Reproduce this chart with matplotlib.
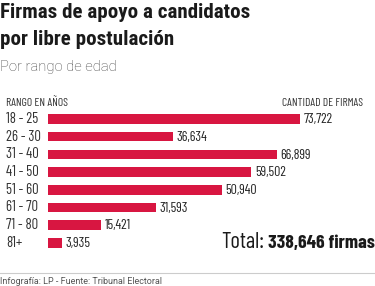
import matplotlib
matplotlib.use("Agg")
import matplotlib.pyplot as plt

# datos
rangos = ["18 - 25", "26 - 30", "31 - 40", "41 - 50", "51 - 60", "61 - 70", "71 - 80", "81+"]
firmas = [73722, 36634, 66899, 59502, 50940, 31593, 15421, 3935]
total = 338646

cond = ["Roboto Condensed", "Barlow Semi Condensed", "DejaVu Sans"]
narrow = ["Barlow Condensed", "Roboto Condensed", "DejaVu Sans"]
plain = ["Roboto", "DejaVu Sans"]

W, H = 375, 286
fig = plt.figure(figsize=(W / 100, H / 100), dpi=100)
fig.patch.set_facecolor("white")
renderer = fig.canvas.get_renderer()

def fx(px):
    return px / W

def fy(py):
    return 1 - py / H

def fit(s, target, **kw):
    # tamaño de letra para que el texto mida target px de ancho
    t = fig.text(0, 0, s, fontsize=10, **kw)
    w = t.get_window_extent(renderer).width
    t.remove()
    return 10 * target / w

red = "#d81641"
dark = "#1a1a1a"

# titulo
kw = dict(fontweight="bold", family=cond, color=dark, va="baseline")
fs = fit("Firmas de apoyo a candidatos", 251, **kw)
fig.text(fx(0), fy(18.5), "Firmas de apoyo a candidatos", fontsize=fs, **kw)
fig.text(fx(0), fy(45), "por libre postulación", fontsize=fs, **kw)
kw = dict(family=plain, fontweight="light", color="#444444", va="baseline")
fig.text(fx(0), fy(71), "Por rango de edad", fontsize=fit("Por rango de edad", 117, **kw), **kw)

# cabeceras
kw = dict(family=narrow, color="#333333", va="baseline")
fig.text(fx(6), fy(106), "RANGO EN AÑOS", fontsize=fit("RANGO EN AÑOS", 62, **kw), **kw)
fig.text(fx(363), fy(106), "CANTIDAD DE FIRMAS", fontsize=fit("CANTIDAD DE FIRMAS", 81, **kw),
         ha="right", **kw)

# barras
step = 17.7
top = 119 - step / 2
ax = fig.add_axes([fx(48.3), fy(top + step * 8), fx(300 - 48.3), step * 8 / H])
y = list(range(len(rangos)))
ax.barh(y, firmas, height=0.54, color=red)
ax.set_xlim(0, firmas[0])
ax.set_ylim(len(rangos) - 0.5, -0.5)
ax.axis("off")

fs_val = fit("36,634", 31, family=narrow)
fs_lab = fit("26 - 30", 35, family=narrow)
for i, v in enumerate(firmas):
    ax.annotate(f"{v:,}", xy=(v, i), xytext=(3.5 * 0.72, -0.5), textcoords="offset points",
                va="center", ha="left", fontsize=fs_val, family=narrow, color="#222222",
                annotation_clip=False)
    ax.annotate(rangos[i], xy=(0, i), xycoords=("figure fraction", "data"),
                xytext=(6 * 0.72, 0), textcoords="offset points", va="center", ha="left",
                fontsize=fs_lab, family=narrow, color="#333333",
                annotation_clip=False)

# total
kw = dict(fontweight="bold", family=narrow, color=dark, va="baseline")
s2 = f"{total:,} firmas"
fig.text(fx(375), fy(248), s2, fontsize=fit(s2, 107, **kw), ha="right", **kw)
kw = dict(fontweight="normal", family=narrow, color=dark, va="baseline")
fig.text(fx(264), fy(248), "Total:", fontsize=fit("Total:", 43, **kw), ha="right", **kw)

# pie
fig.add_artist(plt.Line2D([0, 1], [fy(272.7), fy(272.7)], color="#cccccc", lw=0.8))
kw = dict(family=plain, color="#555555", va="baseline")
s3 = "Infografía: LP - Fuente: Tribunal Electoral"
fig.text(fx(0), fy(284), s3, fontsize=fit(s3, 163, **kw), **kw)

fig.savefig("out.png", dpi=100)
